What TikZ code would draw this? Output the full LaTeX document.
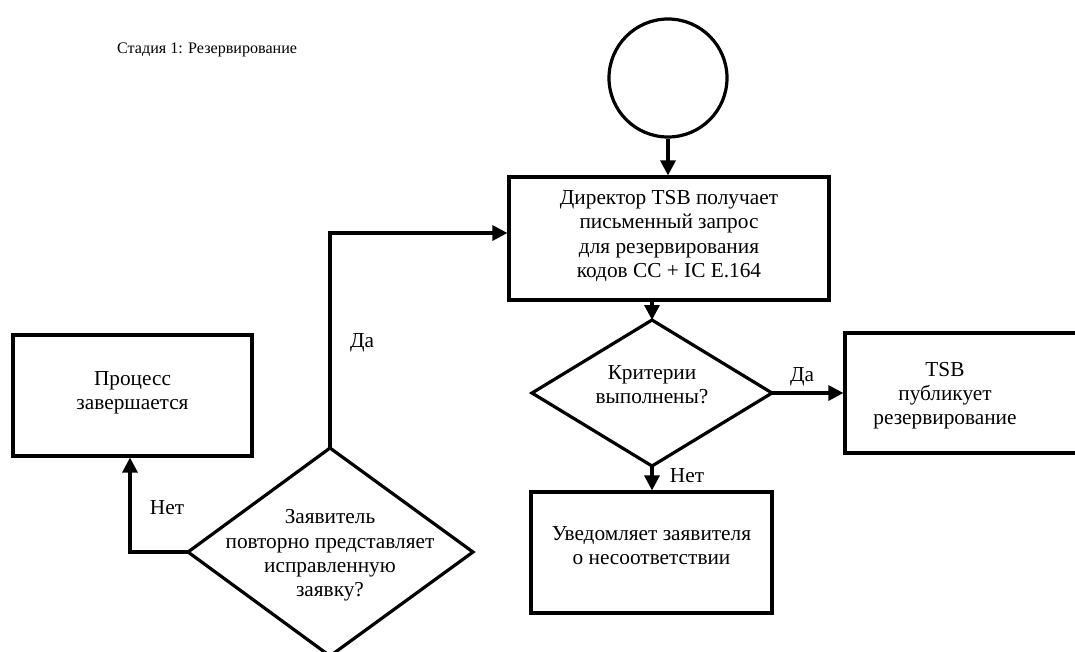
\documentclass[tikz,border=0pt]{standalone}
\usepackage{fontspec}
\setmainfont{Liberation Serif}
\usetikzlibrary{arrows.meta}
\begin{document}
\begin{tikzpicture}[x=1pt,y=-1pt,
  every node/.style={font=\fontsize{21.3}{24.2}\selectfont},
  line/.style={line width=3.2pt, line join=miter},
  arr/.style={line, -{Triangle[length=15pt,width=15pt]}},
  boxnode/.style={draw, line width=3.2pt, rectangle, inner sep=0pt, align=center},
  txt/.style={align=center, inner sep=0pt},
  lbl/.style={inner sep=0pt}]
\useasboundingbox (0,0) rectangle (1075,651);
\clip (0,0) rectangle (1075,651);
% title
\node[lbl, anchor=west, font=\fontsize{16.1}{20}\selectfont] (title) at (117,50) {Стадия 1: Резервирование};
% start circle
\node[draw, line width=3.2pt, circle, minimum size=118pt, inner sep=0pt] (start) at (668,78) {};
% top box
\node[boxnode, minimum width=320pt, minimum height=123pt] (req) at (669,238.5) {};
\node[txt] (reqt) at (669,236) {Директор TSB получает\\письменный запрос\\для резервирования\\кодов CC + IC E.164};
% diamond 1
\coordinate (d1n) at (652,320);
\coordinate (d1e) at (772,393);
\coordinate (d1s) at (652,466);
\coordinate (d1w) at (532,393);
\draw[line] (d1n) -- (d1e) -- (d1s) -- (d1w) -- cycle;
\node[txt] (d1t) at (652,385) {Критерии\\выполнены?};
% TSB box
\node[boxnode, minimum width=235pt, minimum height=120pt] (pub) at (962.5,393) {};
\node[txt] (pubt) at (945,396) {TSB\\публикует\\резервирование};
% notify box
\node[boxnode, minimum width=241pt, minimum height=121pt] (notif) at (651.5,552.5) {};
\node[txt] (notift) at (651.5,546) {Уведомляет заявителя\\о несоответствии};
% process ends box
\node[boxnode, minimum width=239pt, minimum height=121pt] (endp) at (132.5,395.5) {};
\node[txt] (endt) at (132.5,392.5) {Процесс\\завершается};
% diamond 2
\coordinate (d2n) at (330,448);
\coordinate (d2e) at (473,552);
\coordinate (d2s) at (330,656);
\coordinate (d2w) at (188,552);
\draw[line] (d2n) -- (d2e) -- (d2s) -- (d2w) -- cycle;
\node[txt] (d2t) at (330,555.5) {Заявитель\\повторно представляет\\исправленную\\заявку?};
% connectors
\draw[arr] (start.south) -- (start.south |- req.north);
\draw[arr] (d1n |- req.south) -- (d1n);
\draw[arr] (d1e) -- (d1e -| pub.west);
\draw[arr] (d1s) -- (d1s |- notif.north);
\coordinate (dabend) at (330,233);
\draw[arr] (d2n) -- (dabend) -- (dabend -| req.west);
\coordinate (netbend) at (130,552);
\draw[arr] (d2w) -- (netbend) -- (netbend |- endp.south);
% labels
\node[lbl] (da1) at (362,343) {Да};
\node[lbl] (net1) at (167,508) {Нет};
\node[lbl] (da2) at (802,377) {Да};
\node[lbl] (net2) at (687,476) {Нет};
\end{tikzpicture}
\end{document}
